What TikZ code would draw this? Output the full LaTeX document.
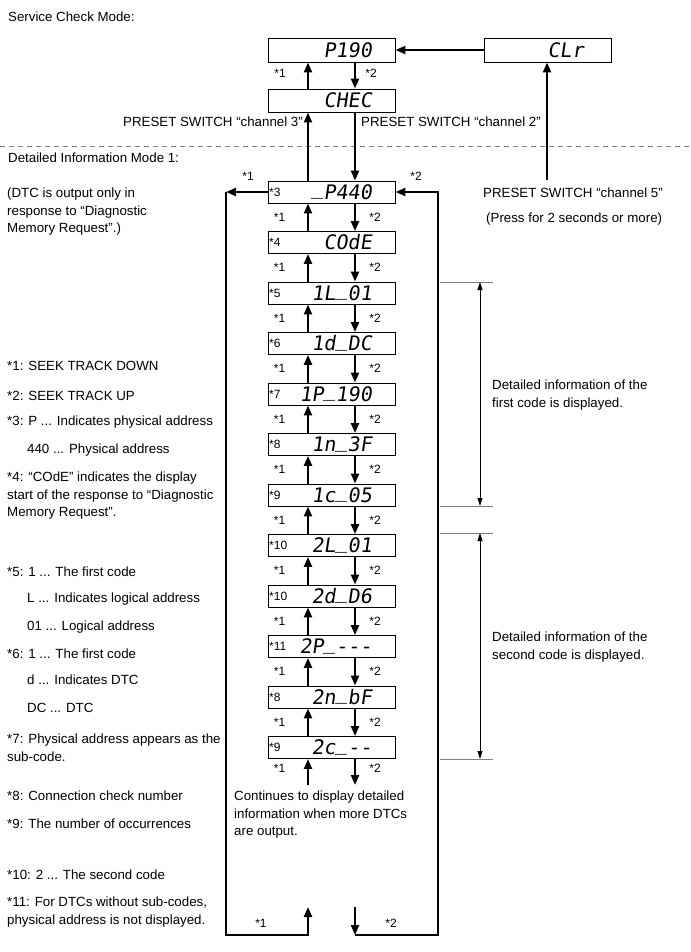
\documentclass[tikz,border=0pt]{standalone}
\usepackage{fontspec}
\setmainfont{Liberation Sans}
\newfontfamily\lcdfont[FakeSlant=0.15]{DejaVu Sans Mono}
\newcommand\lcdus{\raisebox{4.5pt}{\_}}
\usetikzlibrary{arrows.meta, calc}

\begin{document}
\begin{tikzpicture}[
  x=1pt, y=-1pt,
  font=\fontsize{13.3}{17.5}\selectfont,
  box/.style={rectangle, draw=black, line width=0.9pt, minimum width=127pt,
              minimum height=22pt, inner sep=0pt},
  lcd/.style={anchor=base east, inner sep=0pt, font=\lcdfont\fontsize{20}{20}\selectfont},
  tag/.style={anchor=west, inner sep=0pt, font=\fontsize{12}{14}\selectfont},
  star/.style={inner sep=0pt, font=\fontsize{12}{14}\selectfont},
  note/.style={anchor=north west, inner sep=0pt, align=left},
  flow/.style={line width=2.2pt, -{Triangle[length=10pt, width=8pt]}},
  span/.style={line width=0.8pt, {Triangle[length=8pt, width=5pt]}-{Triangle[length=8pt, width=5pt]}},
  tick/.style={draw=gray, line width=0.6pt},
]
\useasboundingbox (0,0) rectangle (690,952);
\coordinate (upx) at (308,0);
\coordinate (dnx) at (355,0);

% ---- Service check mode ----
\node[note] (h1) at (8,12) {Service Check Mode:};
\node[box, minimum height=24pt] (p190) at (331.5,50) {};
\node[lcd] (tp190) at (372,57.3) {P190};
\node[box, minimum height=24pt] (clr) at (547.5,50) {};
\node[lcd] (tclr) at (584,57.3) {CLr};
\node[box, minimum height=23pt] (chec) at (331.5,100.5) {};
\node[lcd] (tchec) at (372,107.8) {CHEC};

\draw[flow] (clr) -- (p190);
\draw[flow] (chec.north -| upx) -- (p190.south -| upx);
\draw[flow] (p190.south -| dnx) -- (chec.north -| dnx);
\node[star] (k1) at (280,73) {*1};
\node[star] (k2) at (371,73) {*2};

\node[note, anchor=north east] (ch3) at (303,117) {PRESET SWITCH “channel 3”};
\node[note] (ch2) at (361,117) {PRESET SWITCH “channel 2”};

\coordinate (c5) at (547,180);
\draw[flow] (c5) -- (c5 |- clr.south);
\node[note] (ch5) at (483,188) {PRESET SWITCH “channel 5”};
\node[note] (ch5b) at (486,213) {(Press for 2 seconds or more)};

\draw[gray, line width=0.7pt, dash pattern=on 5pt off 4pt] (0,146) -- (690,146);

% ---- Detailed information mode 1 ----
\node[note] (h2) at (8,153) {Detailed Information Mode 1:};

\foreach \n/\y/\t/\d in {1/192/3/{\lcdus P440}, 2/242.5/4/{COdE}, 3/293/5/{1L\lcdus 01},
    4/343.5/6/{1d\lcdus DC}, 5/394/7/{1P\lcdus 190}, 6/444.5/8/{1n\lcdus 3F}, 7/495/9/{1c\lcdus 05},
    8/545.5/10/{2L\lcdus 01}, 9/596/10/{2d\lcdus D6}, 10/646.5/11/{2P\lcdus\mbox{-}\mbox{-}\mbox{-}},
    11/697/8/{2n\lcdus bF}, 12/747.5/9/{2c\lcdus\mbox{-}\mbox{-}}} {
  \node[box] (b\n) at (331.5,\y) {};
  \node[lcd] (t\n) at (372,\y+7.3) {\d};
  \node[tag] (s\n) at (269,\y) {*\t};
}

\draw[flow] (b1.north -| upx) -- (chec.south -| upx);
\draw[flow] (chec.south -| dnx) -- (b1.north -| dnx);

\foreach \a [evaluate=\a as \b using int(\a+1)] in {1,...,11} {
  \draw[flow] (b\b.north -| upx) -- (b\a.south -| upx);
  \draw[flow] (b\a.south -| dnx) -- (b\b.north -| dnx);
  \node[star] (u\a) at ($(b\a.south)!0.5!(b\b.north)+(-52,0)$) {*1};
  \node[star] (v\a) at ($(b\a.south)!0.5!(b\b.north)+(43.5,0)$) {*2};
}

% after the last display
\coordinate (e1) at (308,785);
\coordinate (e2) at (355,785);
\draw[flow] (e1) -- (b12.south -| upx);
\draw[flow] (b12.south -| dnx) -- (e2);
\node[star] (u12) at (279.5,768) {*1};
\node[star] (v12) at (375,768) {*2};

\node[note] (more) at (234,791) {Continues to display detailed\\information when more DTCs\\are output.};

% ---- wrap-around loop ----
\coordinate (lt) at (226,192);
\coordinate (lb) at (308,935);
\coordinate (le) at (308,907);
\coordinate (rs) at (355,907);
\coordinate (rb) at (355,935);
\coordinate (rt) at (438,192);
\draw[flow] (b1.west) -- (lt);
\draw[flow, line join=miter] (lt) |- (lb) -- (le);
\draw[flow] (rs) -- (rb);
\draw[flow, line join=miter] (rb) -| (rt) -- (b1.east);
\node[star] (w1) at (248,176) {*1};
\node[star] (w2) at (416,176) {*2};
\node[star] (w3) at (261,923) {*1};
\node[star] (w4) at (391,923) {*2};

% ---- spans on the right ----
\draw[tick] (440,282) -- (493,282);
\draw[tick] (440,506) -- (493,506);
\draw[tick] (440,533) -- (493,533);
\draw[tick] (440,759) -- (493,759);
\draw[span] (480,282) -- (480,506);
\draw[span] (480,533) -- (480,759);
\node[note] (r1) at (492,380) {Detailed information of the\\first code is displayed.};
\node[note] (r2) at (492,632) {Detailed information of the\\second code is displayed.};

% ---- footnotes ----
\node[note] (n0) at (7,188) {(DTC is output only in\\response to “Diagnostic\\Memory Request”.)};
\node[note] (n1) at (7,361) {*1: SEEK TRACK DOWN};
\node[note] (n2) at (7,391) {*2: SEEK TRACK UP};
\node[note] (n3) at (7,416) {*3: P ... Indicates physical address};
\node[note] (n3b) at (27,444) {440 ... Physical address};
\node[note] (n4) at (7,472) {*4: “COdE” indicates the display\\start of the response to “Diagnostic\\Memory Request”.};
\node[note] (n5) at (7,567) {*5: 1 ... The first code};
\node[note] (n5b) at (27,593) {L ... Indicates logical address};
\node[note] (n5c) at (27,621) {01 ... Logical address};
\node[note] (n6) at (7,649) {*6: 1 ... The first code};
\node[note] (n6b) at (27,675) {d ... Indicates DTC};
\node[note] (n6c) at (27,703) {DC ... DTC};
\node[note] (n7) at (7,734) {*7: Physical address appears as the\\sub-code.};
\node[note] (n8) at (7,791) {*8: Connection check number};
\node[note] (n9) at (7,819) {*9: The number of occurrences};
\node[note] (n10) at (7,870) {*10: 2 ... The second code};
\node[note] (n11) at (7,897) {*11: For DTCs without sub-codes,\\physical address is not displayed.};

\end{tikzpicture}
\end{document}
